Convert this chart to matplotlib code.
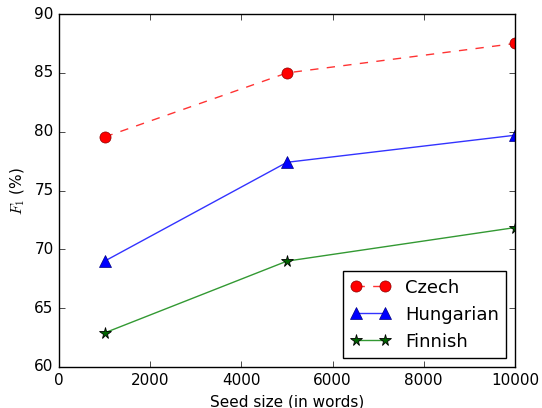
import matplotlib
matplotlib.use("Agg")
import matplotlib.pyplot as plt

plt.style.use('classic')
plt.rcParams['mathtext.fontset'] = 'cm'

seed_sizes = [1000, 5000, 10000]
czech = [79.55, 85.0, 87.5]
hungarian = [69.0, 77.4, 79.7]
finnish = [62.9, 69.0, 71.85]

fig = plt.figure(figsize=(5.42, 4.08), dpi=100)
ax = fig.add_axes([0.109, 0.1005, 0.841, 0.865])

ax.plot(seed_sizes, czech, color=(1, 0, 0, 0.8), linestyle='--', marker='o', markersize=8,
        markerfacecolor='red', markeredgecolor='darkred', label='Czech')
ax.plot(seed_sizes, hungarian, color=(0, 0, 1, 0.8), linestyle='-', marker='^', markersize=8.5,
        markerfacecolor='blue', markeredgecolor='navy', label='Hungarian')
ax.plot(seed_sizes, finnish, color=(0, 0.5, 0, 0.8), linestyle='-', marker='*', markersize=8.5,
        markerfacecolor='darkgreen', markeredgecolor='black', markeredgewidth=0.6, label='Finnish')

ax.set_xlim(0, 10000)
ax.set_ylim(60, 90)
ax.set_xlabel('Seed size (in words)', fontsize=11)
ax.set_ylabel(r'$F_1$ (%)', fontsize=11)
ax.tick_params(labelsize=11)
ax.legend(loc='lower right', fontsize=13, numpoints=2, handlelength=2.2)

fig.savefig('out.png', dpi=100)
